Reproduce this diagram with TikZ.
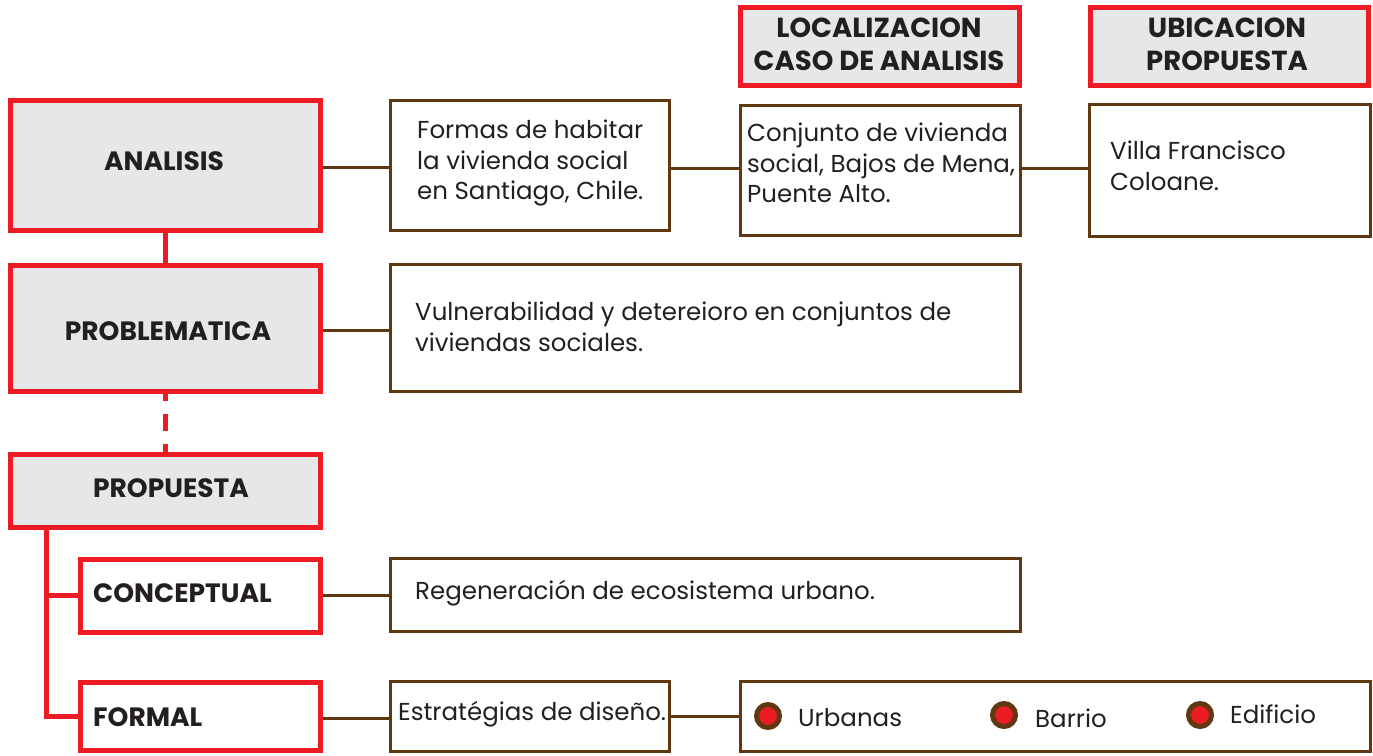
\documentclass[tikz,border=0pt]{standalone}
\usepackage{fontspec}
\setmainfont{Poppins}
\definecolor{myred}{HTML}{ED1C24}
\definecolor{mybrown}{HTML}{603913}
\definecolor{mygray}{HTML}{E6E7E8}
\definecolor{mytext}{HTML}{231F20}
\tikzset{
  redbox/.style={draw=myred, line width=5pt, inner sep=0pt},
  graybox/.style={redbox, fill=mygray},
  brownbox/.style={draw=mybrown, line width=3pt, fill=white, inner sep=0pt},
  headtext/.style={text=mytext, font=\fontsize{26.5}{33}\selectfont\bfseries, inner sep=0pt, align=center},
  tophead/.style={headtext, font=\fontsize{27.5}{33}\selectfont\bfseries},
  bodytext/.style={text=mytext, font=\fontsize{24.5}{30.5}\selectfont, inner sep=0pt, align=left, anchor=west},
  redlink/.style={draw=myred, line width=5pt},
  brownlink/.style={draw=mybrown, line width=3pt},
  dotmark/.style={circle, draw=mybrown, line width=5pt, fill=myred, minimum size=23pt, inner sep=0pt},
}
\begin{document}
\begin{tikzpicture}[x=1pt,y=-1pt]
\useasboundingbox (0,0) rectangle (1373,755);

% left red column
\node[graybox, minimum width=310pt, minimum height=130pt] (analisis) at (165,165) {};
\node[headtext] (analisisT) at (164,161) {ANALISIS};
\node[graybox, minimum width=310pt, minimum height=126pt] (problematica) at (165,328) {};
\node[headtext] (problematicaT) at (168,331) {PROBLEMATICA};
\node[graybox, minimum width=310pt, minimum height=73pt] (propuesta) at (165,490.5) {};
\node[headtext] (propuestaT) at (171,488) {PROPUESTA};
\node[redbox, fill=white, minimum width=240pt, minimum height=73pt] (conceptual) at (200,595.5) {};
\node[headtext, anchor=west] (conceptualT) at (93,593) {CONCEPTUAL};
\node[redbox, fill=white, minimum width=240pt, minimum height=68pt] (formal) at (200,716) {};
\node[headtext, anchor=west] (formalT) at (93,717) {FORMAL};

% headers
\node[graybox, minimum width=279pt, minimum height=78pt] (loc) at (880,46.5) {};
\node[tophead] (locT) at (879,44) {LOCALIZACION\\CASO DE ANALISIS};
\node[graybox, minimum width=278pt, minimum height=78pt] (ubi) at (1229,46.5) {};
\node[tophead] (ubiT) at (1227,44) {UBICACION\\PROPUESTA};

% brown boxes
\node[brownbox, minimum width=279pt, minimum height=130pt] (b1) at (529.5,165) {};
\node[bodytext] (b1T) at (417,163) {Formas de habitar\\la vivienda social\\en Santiago, Chile.};
\node[brownbox, minimum width=280pt, minimum height=130pt] (b2) at (880,170) {};
\node[bodytext] (b2T) at (747,163) {Conjunto de vivienda\\social, Bajos de Mena,\\Puente Alto.};
\node[brownbox, minimum width=281pt, minimum height=132pt] (b3) at (1230,170) {};
\node[bodytext] (b3T) at (1110,166) {Villa Francisco\\Coloane.};
\node[brownbox, minimum width=630pt, minimum height=127pt] (b4) at (705,327.5) {};
\node[bodytext] (b4T) at (415,327) {Vulnerabilidad y detereioro en conjuntos de\\viviendas sociales.};
\node[brownbox, minimum width=630pt, minimum height=73pt] (b5) at (705,594.5) {};
\node[bodytext] (b5T) at (415,593) {Regeneración de ecosistema urbano.};
\node[brownbox, minimum width=279pt, minimum height=70pt] (b6) at (529.5,716) {};
\node[bodytext] (b6T) at (398,714) {Estratégias de diseño.};
\node[brownbox, minimum width=630pt, minimum height=70pt] (b7) at (1055,716) {};

% legend
\node[dotmark] (d1) at (768,716) {};
\node[bodytext] (d1T) at (798,718) {Urbanas};
\node[dotmark] (d2) at (1004,715) {};
\node[bodytext] (d2T) at (1035,718) {Barrio};
\node[dotmark] (d3) at (1200,715) {};
\node[bodytext] (d3T) at (1230,714) {Edificio};

% red connectors
\draw[redlink] (analisis.south) -- (problematica.north);
\draw[redlink, dash pattern=on 17pt off 13pt, dash phase=10pt] (problematica.south) -- (propuesta.north);
\coordinate (spine) at (46,595.5);
\draw[redlink] (propuesta.south -| spine) |- (formal.west);
\draw[redlink] (spine) -- (conceptual.west);

% brown connectors
\draw[brownlink] (analisis.east |- 0,167) -- (b1.west |- 0,167);
\draw[brownlink] (b1.east |- 0,168) -- (b2.west |- 0,168);
\draw[brownlink] (b2.east |- 0,168) -- (b3.west |- 0,168);
\draw[brownlink] (problematica.east |- 0,330) -- (b4.west |- 0,330);
\draw[brownlink] (conceptual.east) -- (b5.west |- conceptual.east);
\draw[brownlink] (formal.east |- 0,718) -- (b6.west |- 0,718);
\draw[brownlink] (b6.east) -- (b7.west);
\end{tikzpicture}
\end{document}
